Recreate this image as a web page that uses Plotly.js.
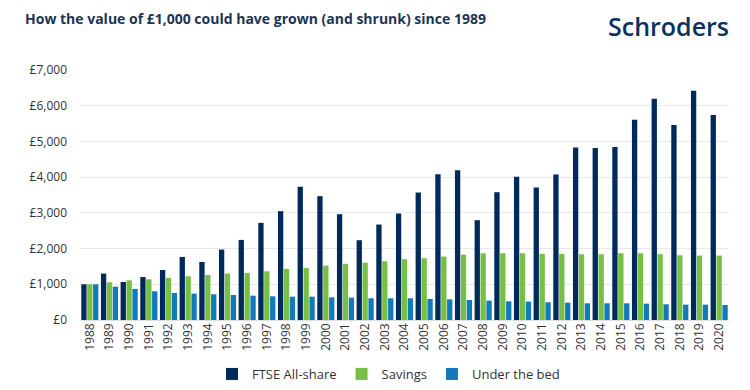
<!DOCTYPE html>
<html>
<head>
<meta charset="utf-8">
<script src="https://cdn.plot.ly/plotly-3.0.1.min.js"></script>
<style>
html,body{margin:0;padding:0;background:#fff;}
#chart{width:750px;height:390px;}
</style>
</head>
<body>
<div id="chart"></div>
<script>
const years = ["1988","1989","1990","1991","1992","1993","1994","1995","1996","1997","1998","1999","2000","2001","2002","2003","2004","2005","2006","2007","2008","2009","2010","2011","2012","2013","2014","2015","2016","2017","2018","2019","2020"];
const ftse = [1000,1300,1065,1205,1400,1766,1626,1972,2243,2720,3047,3729,3467,2963,2234,2673,2981,3570,4084,4196,2794,3579,4009,3710,4075,4832,4813,4841,5607,6196,5458,6421,5738];
const savings = [1000,1056,1112,1140,1178,1224,1262,1300,1318,1364,1430,1458,1523,1570,1607,1645,1701,1729,1776,1832,1869,1869,1869,1850,1850,1841,1841,1869,1869,1841,1813,1804,1804];
const underBed = [1000,935,870,804,757,738,720,700,682,664,654,654,636,626,607,607,607,589,579,561,542,523,514,495,486,467,467,467,458,439,430,430,421];
const seriesNames = ["FTSE All-share","Savings","Under the bed"];
const yTicks = [0,1000,2000,3000,4000,5000,6000,7000];

const colors = ["#002a5c","#76c043","#1279bc"];
const data = [ftse, savings, underBed].map((vals,i)=>({
  type:'bar', x: years, y: vals, name: seriesNames[i],
  marker:{color: colors[i], line:{width:0}},
  hoverinfo:'x+y+name'
}));

const layout = {
  width:750, height:390,
  margin:{l:80, r:21, t:70, b:70},
  paper_bgcolor:'#fff', plot_bgcolor:'#fff',
  barmode:'group', bargap:0.1, bargroupgap:0.1,
  font:{family:'"Open Sans", sans-serif', color:'#333', size:12},
  title:{
    text:'<b>How the value of £1,000 could have grown (and shrunk) since 1989</b>',
    xref:'container', yref:'container', x:25/750, xanchor:'left', y:1-19/390, yanchor:'middle',
    font:{family:'"Open Sans", sans-serif', size:14, color:'#1c3557'}
  },
  xaxis:{
    type:'category', tickangle:-90, tickfont:{size:12, color:'#333'},
    showgrid:false, zeroline:false, showline:false, ticks:'', ticklen:0
  },
  yaxis:{
    range:[0,7000], tickvals:yTicks, ticktext: yTicks.map(v=>'£'+v.toLocaleString('en-GB')),
    gridcolor:'#e9e9e9', gridwidth:1, zeroline:true, zerolinecolor:'#e0e0e0',
    tickfont:{size:12, color:'#333'}, ticks:'', ticklen:0, showline:false,
    ticklabelstandoff:12
  },
  showlegend:true,
  legend:{
    orientation:'h', xref:'container', yref:'container',
    x:212/750, xanchor:'left', y:1-374/390, yanchor:'middle',
    font:{size:13, color:'#333'}, itemwidth:30, traceorder:'normal'
  },
  annotations:[{
    text:'Schroders', xref:'paper', yref:'paper',
    x:(731-80)/649, xanchor:'right', y:1+(70-26)/250, yanchor:'middle',
    showarrow:false, font:{family:'"Open Sans", sans-serif', size:25, weight:600, color:'#0a3161'}
  }]
};

Plotly.newPlot('chart', data, layout, {displayModeBar:false, responsive:false});
</script>
</body>
</html>
